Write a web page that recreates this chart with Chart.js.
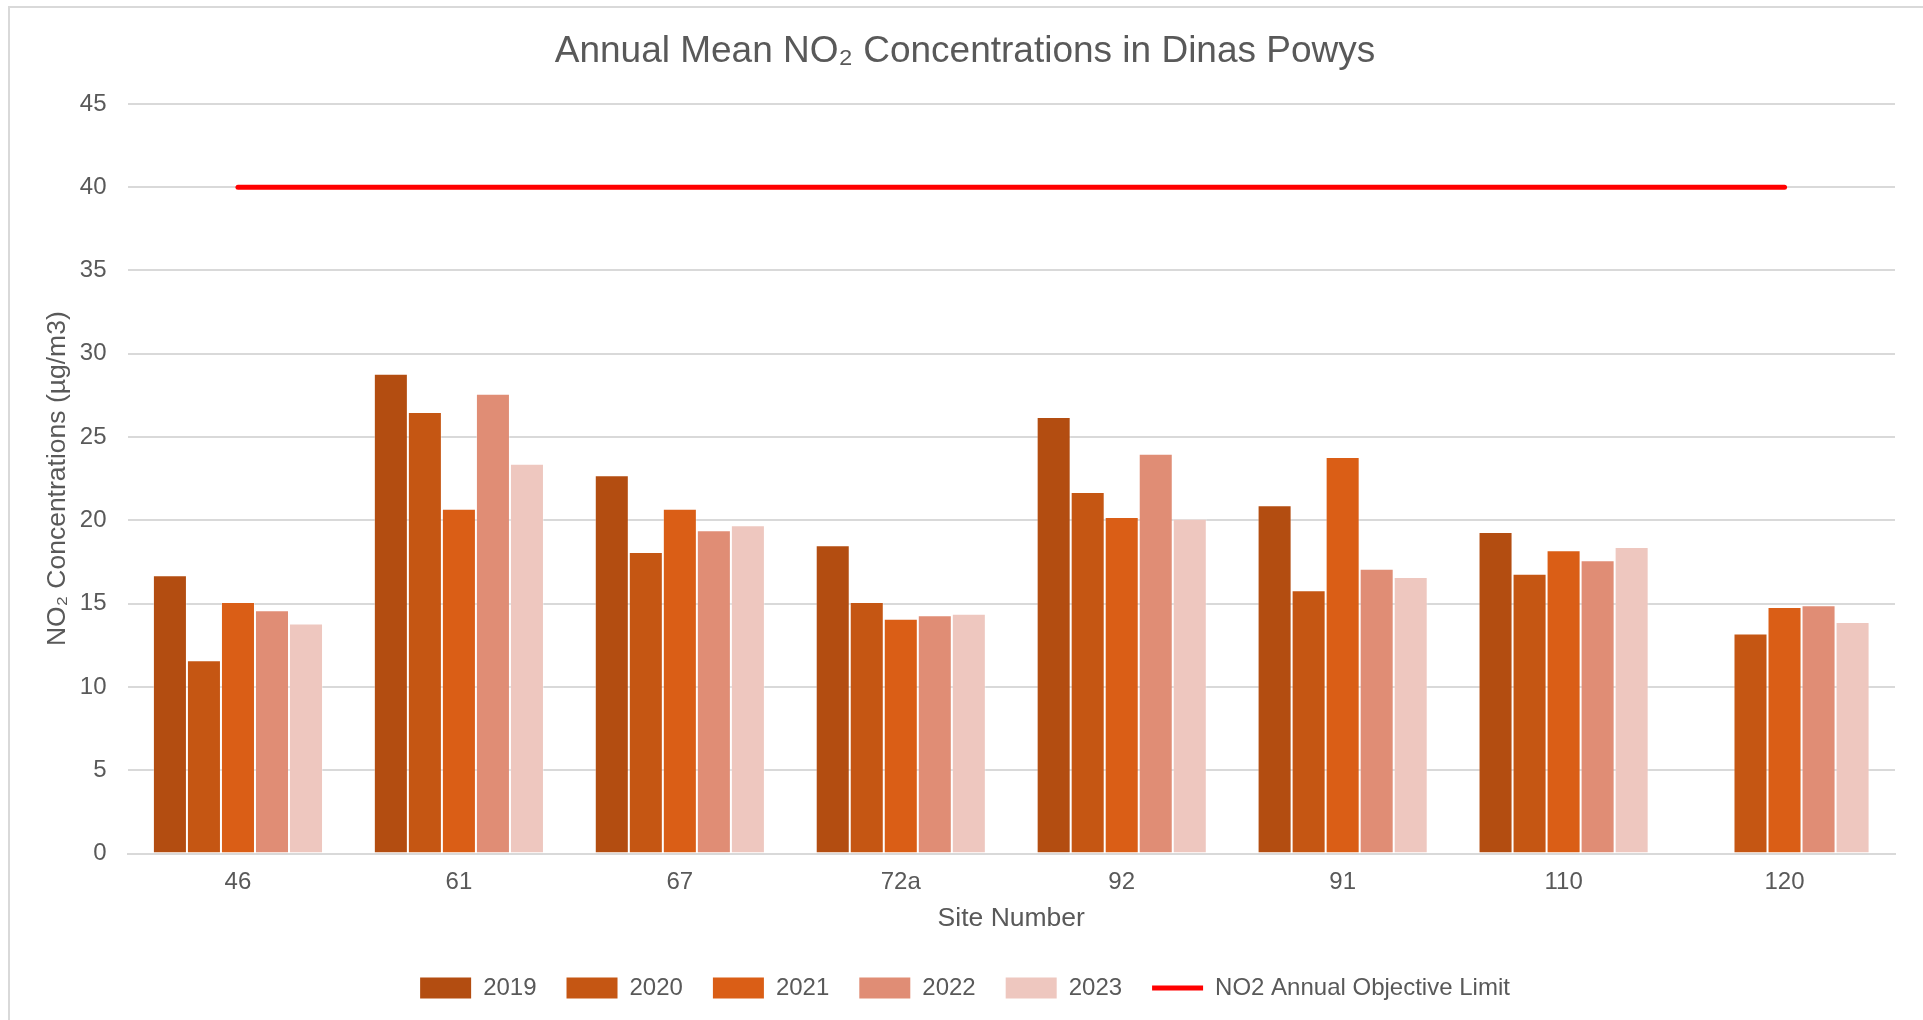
<!DOCTYPE html>
<html>
<head>
<meta charset="utf-8">
<title>Annual Mean NO2 Concentrations in Dinas Powys</title>
<script src="https://cdn.jsdelivr.net/npm/chart.js@4"></script>
<style>
	body { margin: 0; background: #fff; overflow: hidden; }
	#frame { position: absolute; left: 8px; top: 6px; width: 1930px; height: 1030px; border: 2px solid #d9d9d9; }
	#wrap { position: absolute; left: 0; top: 0; width: 1923px; height: 1034px; }
</style>
</head>
<body>
<div id="frame"></div>
<div id="wrap"><canvas id="chart"></canvas></div>
<script>
const sites = ['46', '61', '67', '72a', '92', '91', '110', '120'];

const y2019 = [16.7, 28.8, 22.7, 18.5, 26.2, 20.9, 19.3, null];
const y2020 = [11.6, 26.5, 18.1, 15.1, 21.7, 15.8, 16.8, 13.2];
const y2021 = [15.1, 20.7, 20.7, 14.1, 20.2, 23.8, 18.2, 14.8];
const y2022 = [14.6, 27.6, 19.4, 14.3, 24.0, 17.1, 17.6, 14.9];
const y2023 = [13.8, 23.4, 19.7, 14.4, 20.1, 16.6, 18.4, 13.9];

const limit = [40, 40, 40, 40, 40, 40, 40, 40];

const yTicks = [0, 5, 10, 15, 20, 25, 30, 35, 40, 45];

(function drawChart() {
	const grey = '#595959';
	const font = 'Liberation Sans, Arial, sans-serif';

	function bar(label, data, color) {
		return {
			type: 'bar',
			label: label,
			data: data,
			backgroundColor: color,
			borderColor: 'rgba(255,255,255,0.35)',
			borderWidth: 1,
			barPercentage: 1.0,
			categoryPercentage: 0.77
		};
	}

	let ctx = document.getElementById('chart').getContext('2d');
	let myChart = new Chart(ctx, {
		data: {
			labels: sites,
			datasets: [
				bar('2019', y2019, '#b34d11'),
				bar('2020', y2020, '#c55613'),
				bar('2021', y2021, '#da5e16'),
				bar('2022', y2022, '#e08d75'),
				bar('2023', y2023, '#eec7bf'),
				{
					type: 'line',
					label: 'NO2 Annual Objective Limit',
					data: limit,
					borderColor: '#ff0000',
					backgroundColor: '#ff0000',
					borderWidth: 5,
					borderCapStyle: 'round',
					pointRadius: 0,
					fill: false
				}
			]
		},
		options: {
			responsive: true,
			maintainAspectRatio: false,
			animation: false,
			layout: { padding: { left: 35, right: 28, top: 10, bottom: 24 } },
			plugins: {
				title: {
					display: true,
					text: 'Annual Mean NO₂ Concentrations in Dinas Powys',
					color: grey,
					font: { family: font, size: 37, weight: 'normal' },
					padding: { top: 19.5, bottom: 30 }
				},
				legend: {
					position: 'bottom',
					labels: {
						color: grey,
						font: { family: font, size: 24 },
						usePointStyle: true,
						pointStyleWidth: 51,
						boxHeight: 21,
						padding: 30,
						generateLabels: (chart) => {
							let items = Chart.defaults.plugins.legend.labels.generateLabels(chart);
							return items.map((item) => {
								if (item.datasetIndex === 5) {
									item.pointStyle = 'line';
								} else {
									item.pointStyle = 'rect';
									item.strokeStyle = item.fillStyle;
									item.lineWidth = 0;
								}
								return item;
							});
						}
					}
				},
				tooltip: { enabled: false }
			},
			scales: {
				x: {
					afterFit: (axis) => { axis.height = 92.5; },
					grid: { display: false, drawTicks: false },
					border: { display: true, color: '#d9d9d9', width: 2 },
					ticks: { color: grey, font: { family: font, size: 24 }, padding: 14 },
					title: {
						display: true,
						text: 'Site Number',
						color: grey,
						font: { family: font, size: 26.5 },
						padding: { top: 0, bottom: 11 }
					}
				},
				y: {
					min: 0,
					max: 45,
					afterBuildTicks: (axis) => {
						axis.ticks = yTicks.map((v) => ({ value: v }));
					},
					afterFit: (axis) => { axis.width = 92.5; },
					grid: { color: '#d9d9d9', lineWidth: 2, drawTicks: false },
					border: { display: false },
					ticks: { color: grey, font: { family: font, size: 24 }, padding: 21 },
					title: {
						display: true,
						text: 'NO₂ Concentrations (µg/m3)',
						color: grey,
						font: { family: font, size: 26.5 },
						padding: { top: 7, bottom: 0 }
					}
				}
			}
		}
	});
})();
</script>
</body>
</html>
